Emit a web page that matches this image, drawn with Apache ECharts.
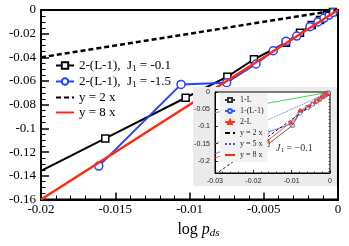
<!DOCTYPE html>
<html><head><meta charset="utf-8">
<script src="https://cdn.jsdelivr.net/npm/echarts@6/dist/echarts.min.js"></script>
<style>html,body{margin:0;padding:0;background:#fff}#c{width:349px;height:246px}</style>
</head><body><div id="c"></div>
<script>
// ---- main plot data ----
const mainBlackX = [-0.0215, -0.01567, -0.01026, -0.00745, -0.00566, -0.0035, -0.00256, -0.00177, -0.00121, -0.00074, -0.00034];
const mainBlackY = [-0.1454, -0.1084, -0.0741, -0.0563, -0.0416, -0.0276, -0.0192, -0.0127, -0.0084, -0.0042, -0.0017];
const mainBlueX = [-0.01611, -0.01057, -0.0075, -0.00552, -0.00436, -0.0035, -0.00278, -0.00189, -0.00135, -0.00094, -0.0006, -0.00034];
const mainBlueY = [-0.1318, -0.0628, -0.0614, -0.0456, -0.0344, -0.0264, -0.022, -0.0141, -0.0101, -0.0068, -0.0042, -0.0021];
const mainRefX = [-0.02, 0];
const mainRef2Y = [-0.04, 0];
const mainRef8Y = [-0.16, 0];
const mainNames = ['2-(L-1), J1 = -0.1', '2-(L-1), J1 = -1.5', 'y = 2 x', 'y = 8 x'];

// ---- inset data ----
const insetL1X = [-0.0163, -0.0098, -0.0078, -0.0058, -0.0045, -0.0035, -0.0027, -0.0019, -0.0013, -0.0008, -0.0004];
const insetL1Y = [-0.153, -0.097, -0.058, -0.044, -0.034, -0.026, -0.020, -0.0135, -0.009, -0.0055, -0.0025];
const insetLm1X = [-0.0315, -0.0163, -0.0102, -0.0078, -0.0058, -0.0045, -0.0035, -0.0027, -0.0019, -0.0013, -0.0008, -0.0004];
const insetLm1Y = [-0.186, -0.117, -0.093, -0.062, -0.047, -0.036, -0.028, -0.021, -0.015, -0.010, -0.006, -0.003];
const inset2LX = [-0.0315, -0.0162, -0.0102, -0.0078, -0.0054, -0.0039, -0.0029, -0.002, -0.0012, -0.0006];
const inset2LY = [-0.197, -0.140, -0.088, -0.053, -0.040, -0.0285, -0.021, -0.014, -0.008, -0.004];
const insetRefX = [-0.03, 0];
const insetRef2Y = [-0.06, 0];
const insetRef5Y = [-0.15, 0];
const insetRef8Y = [-0.24, 0];
const insetNames = ['1-L', '1-(L-1)', '2-L', 'y = 2 x', 'y = 5 x', 'y = 8 x'];
const insetYLabels = [0, -0.05, -0.1, -0.15, -0.2];
const insetYMinor = [0,-0.01,-0.02,-0.03,-0.04,-0.05,-0.06,-0.07,-0.08,-0.09,-0.1,-0.11,-0.12,-0.13,-0.14,-0.15,-0.16,-0.17,-0.18,-0.19,-0.2,-0.21,-0.22,-0.23];

const zip = (xs, ys) => xs.map((x, i) => [x, ys[i]]);
const SERIF = 'Liberation Serif';
const SANS = 'Liberation Sans';
const BLUE = '#1f45ff';
const RED = '#ff2a10';
const noSym = {opacity: 0};
const legendItems = (names, lineOnly) => names.map(n => lineOnly.indexOf(n) >= 0 ? {name: n, itemStyle: noSym} : {name: n});

const chart = echarts.init(document.getElementById('c'), null, {renderer: 'canvas'});
const option = {
  animation: false,
  backgroundColor: '#fff',
  grid: [
    {left: 41, right: 11, top: 10, bottom: 46.5, show: true, borderColor: '#000', borderWidth: 2, backgroundColor: '#fff'},
    {left: 215, top: 92, width: 115, height: 81, show: true, borderColor: '#000', borderWidth: 1, backgroundColor: '#fff', z: 11}
  ],
  graphic: [
    {type: 'rect', z: 10, silent: true, shape: {x: 193, y: 87, width: 144, height: 99}, style: {fill: '#ebebeb'}},
    {type: 'text', z: 30, silent: true, x: 276, y: 142,
      style: {text: '{j|J}{s|1}{t| = \u22120.1}', rich: {
        j: {fontFamily: SERIF, fontStyle: 'italic', fontSize: 10, fill: '#333'},
        s: {fontFamily: SERIF, fontSize: 7, fill: '#333', padding: [5, 0, 0, 0]},
        t: {fontFamily: SERIF, fontSize: 10, fill: '#333'}
      }}}
  ],
  legend: [
    {
      data: legendItems(mainNames, ['y = 2 x', 'y = 8 x']), orient: 'vertical', left: 55, top: 59, padding: 0,
      itemWidth: 18, itemHeight: 8, itemGap: 2,
      textStyle: {fontFamily: SERIF, fontSize: 13, color: '#000',
        rich: {s: {fontFamily: SERIF, fontSize: 9, padding: [6, 0, 0, 0]}, t: {fontFamily: SERIF, fontSize: 13}}},
      formatter: function (n) {
        const m = n.match(/^(.*)J1(.*)$/);
        if (m) return '{t|' + m[1] + ' J}{s|1}{t|' + m[2] + '}';
        return n;
      }
    },
    {
      data: legendItems(insetNames, ['y = 2 x', 'y = 5 x', 'y = 8 x']), orient: 'vertical', left: 220, top: 93, z: 20,
      padding: [3, 4, 3, 4], backgroundColor: '#f2f2f2',
      itemWidth: 10, itemHeight: 5, itemGap: 3,
      textStyle: {fontFamily: SERIF, fontSize: 8, color: '#222', lineHeight: 8}
    }
  ],
  xAxis: [
    {
      type: 'value', gridIndex: 0, min: -0.02, max: 0, interval: 0.005,
      axisLine: {onZero: false, lineStyle: {color: '#000', width: 2}},
      axisTick: {inside: true, length: 7, lineStyle: {color: '#000', width: 1.5}},
      minorTick: {show: true, splitNumber: 5, length: 4, lineStyle: {color: '#000', width: 1}},
      splitLine: {show: false},
      axisLabel: {fontFamily: SERIF, fontSize: 13, color: '#000', margin: 4},
      name: '{a|log }{p|p}{s|ds}', nameLocation: 'middle', nameGap: 21,
      nameTextStyle: {padding: [0, 0, 0, 18], rich: {
        a: {fontFamily: SERIF, fontSize: 16, color: '#000'},
        p: {fontFamily: SERIF, fontSize: 16, fontStyle: 'italic', color: '#000'},
        s: {fontFamily: SERIF, fontSize: 11, fontStyle: 'italic', color: '#000', padding: [7, 0, 0, 0]}
      }}
    },
    {
      type: 'value', gridIndex: 1, min: -0.03, max: 0, interval: 0.01, z: 12,
      axisLine: {onZero: false, lineStyle: {color: '#000', width: 1}},
      axisTick: {inside: true, length: 3, lineStyle: {color: '#000', width: 0.8}},
      minorTick: {show: true, splitNumber: 5, length: 1.5, lineStyle: {color: '#000', width: 0.6}},
      splitLine: {show: false},
      axisLabel: {fontFamily: SANS, fontSize: 7, color: '#222', margin: 5}
    }
  ],
  yAxis: [
    {
      type: 'value', gridIndex: 0, min: -0.16, max: 0, interval: 0.02,
      axisLine: {onZero: false, lineStyle: {color: '#000', width: 2}},
      axisTick: {inside: true, length: 8, lineStyle: {color: '#000', width: 1.5}},
      minorTick: {show: true, splitNumber: 4, length: 4.5, lineStyle: {color: '#000', width: 1}},
      splitLine: {show: false},
      axisLabel: {fontFamily: SERIF, fontSize: 13, color: '#000', margin: 5}
    },
    {
      type: 'value', gridIndex: 1, min: -0.235, max: 0, z: 12,
      axisLine: {onZero: false, lineStyle: {color: '#000', width: 1}},
      axisTick: {inside: true, length: 3, customValues: insetYLabels, lineStyle: {color: '#000', width: 0.8}},
      splitLine: {show: false},
      axisLabel: {fontFamily: SANS, fontSize: 7, color: '#222', margin: 5, customValues: insetYLabels}
    },
    {
      type: 'value', gridIndex: 1, min: -0.235, max: 0, z: 12,
      axisLine: {show: false},
      axisTick: {inside: true, length: 1.5, customValues: insetYMinor, lineStyle: {color: '#000', width: 0.6}},
      splitLine: {show: false},
      axisLabel: {show: false}
    }
  ],
  series: [
    {name: mainNames[0], type: 'line', xAxisIndex: 0, yAxisIndex: 0, data: zip(mainBlackX, mainBlackY),
      symbol: 'rect', symbolSize: 7, lineStyle: {color: '#000', width: 2},
      itemStyle: {color: '#fff', borderColor: '#000', borderWidth: 1.5}, z: 3},
    {name: mainNames[1], type: 'line', xAxisIndex: 0, yAxisIndex: 0, data: zip(mainBlueX, mainBlueY),
      symbol: 'circle', symbolSize: 8, lineStyle: {color: BLUE, width: 2},
      itemStyle: {color: '#fff', borderColor: BLUE, borderWidth: 1.5}, z: 4},
    {name: mainNames[2], type: 'line', xAxisIndex: 0, yAxisIndex: 0, data: zip(mainRefX, mainRef2Y),
      showSymbol: false, symbol: 'none', lineStyle: {color: '#000', width: 2.5, type: [5, 3]}, itemStyle: {color: '#000'}, z: 5},
    {name: mainNames[3], type: 'line', xAxisIndex: 0, yAxisIndex: 0, data: zip(mainRefX, mainRef8Y),
      showSymbol: false, symbol: 'none', lineStyle: {color: RED, width: 2.5}, itemStyle: {color: RED}, z: 6},

    {name: insetNames[0], type: 'line', xAxisIndex: 1, yAxisIndex: 1, data: zip(insetL1X, insetL1Y), z: 13,
      symbol: 'rect', symbolSize: 3.5, lineStyle: {color: '#333', width: 0.8},
      itemStyle: {color: '#fff', borderColor: '#333', borderWidth: 0.7}},
    {name: insetNames[1], type: 'line', xAxisIndex: 1, yAxisIndex: 1, data: zip(insetLm1X, insetLm1Y), z: 13,
      symbol: 'circle', symbolSize: 3.5, lineStyle: {color: '#3355ff', width: 0.8},
      itemStyle: {color: '#fff', borderColor: '#3355ff', borderWidth: 0.7}},
    {name: insetNames[2], type: 'line', xAxisIndex: 1, yAxisIndex: 1, data: zip(inset2LX, inset2LY), z: 13,
      symbol: 'triangle', symbolSize: 4, lineStyle: {color: '#ff3322', width: 0.8},
      itemStyle: {color: '#ff3322', borderColor: '#ff3322', borderWidth: 0.5}},
    {name: insetNames[3], type: 'line', xAxisIndex: 1, yAxisIndex: 1, data: zip(insetRefX, insetRef2Y), z: 13,
      symbol: 'none', lineStyle: {color: '#22c022', width: 0.8}, itemStyle: {color: '#22c022'}},
    {name: insetNames[4], type: 'line', xAxisIndex: 1, yAxisIndex: 1, data: zip(insetRefX, insetRef5Y), z: 13,
      symbol: 'none', lineStyle: {color: '#4455dd', width: 0.9, type: 'dotted'}, itemStyle: {color: '#4455dd'}},
    {name: insetNames[5], type: 'line', xAxisIndex: 1, yAxisIndex: 1, data: zip(insetRefX, insetRef8Y), z: 13,
      symbol: 'none', lineStyle: {color: '#000', width: 0.9, type: [3, 2]}, itemStyle: {color: '#000'}}
  ]
};
chart.setOption(option);
</script>
</body></html>
